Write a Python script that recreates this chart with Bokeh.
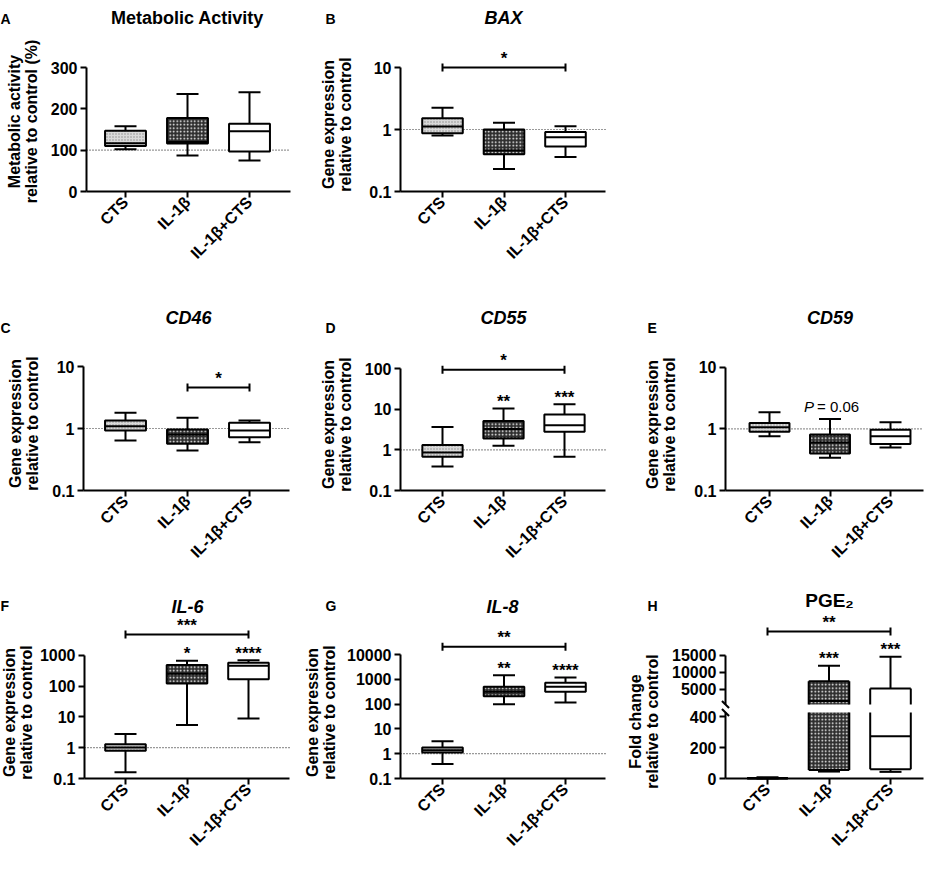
import numpy as np
from math import pi
from bokeh.plotting import figure
from bokeh.layouts import column, row
from bokeh.models import Range1d, FixedTicker, Label, LinearAxis
from bokeh.core.properties import value
from bokeh.embed import file_html
from bokeh.resources import INLINE

FONT = "Liberation Sans"

categories = ["CTS", "IL-1β", "IL-1β+CTS"]

# Box summaries per group (CTS, IL-1β, IL-1β+CTS): whisker min, Q1, median, Q3, whisker max
metab_min = [102, 87, 75]
metab_q1 = [110, 116, 97]
metab_med = [117, 120, 146]
metab_q3 = [147, 178, 164]
metab_max = [158, 236, 240]

bax_min = [0.80, 0.23, 0.36]
bax_q1 = [0.87, 0.40, 0.53]
bax_med = [1.12, 0.46, 0.75]
bax_q3 = [1.52, 1.00, 0.91]
bax_max = [2.24, 1.28, 1.13]

cd46_min = [0.64, 0.44, 0.60]
cd46_q1 = [0.93, 0.57, 0.72]
cd46_med = [1.09, 0.80, 0.93]
cd46_q3 = [1.35, 0.96, 1.24]
cd46_max = [1.79, 1.49, 1.35]

cd55_min = [0.39, 1.27, 0.68]
cd55_q1 = [0.68, 1.92, 2.79]
cd55_med = [0.87, 3.30, 4.07]
cd55_q3 = [1.32, 5.20, 7.45]
cd55_max = [3.70, 10.5, 13.3]

cd59_min = [0.76, 0.34, 0.50]
cd59_q1 = [0.90, 0.40, 0.57]
cd59_med = [1.06, 0.60, 0.76]
cd59_q3 = [1.25, 0.81, 0.97]
cd59_max = [1.86, 1.45, 1.28]

il6_min = [0.16, 5.4, 8.9]
il6_q1 = [0.79, 120, 166]
il6_med = [1.01, 250, 457]
il6_q3 = [1.30, 479, 570]
il6_max = [2.8, 661, 692]

il8_min = [0.38, 99, 116]
il8_q1 = [1.12, 208, 313]
il8_med = [1.38, 313, 500]
il8_q3 = [1.78, 500, 724]
il8_max = [3.19, 1463, 1183]

pge2_min = [0.4, 45, 43]
pge2_q1 = [0.7, 55, 60]
pge2_med = [1.0, 1500, 274]
pge2_q3 = [3.0, 7353, 5206]
pge2_max = [8.0, 11882, 14529]

# axis ticks and tick labels
ticks_pct = [0, 100, 200, 300]
labels_pct = ["0", "100", "200", "300"]
ticks_10 = [0.1, 1, 10]
labels_10 = ["0.1", "1", "10"]
ticks_100 = [0.1, 1, 10, 100]
labels_100 = ["0.1", "1", "10", "100"]
ticks_1000 = [0.1, 1, 10, 100, 1000]
labels_1000 = ["0.1", "1", "10", "100", "1000"]
ticks_10000 = [0.1, 1, 10, 100, 1000, 10000]
labels_10000 = ["0.1", "1", "10", "100", "1000", "10000"]
ticks_pge_hi = [5000, 10000, 15000]
labels_pge_hi = ["5000", "10000", "15000"]
ticks_pge_lo = [0, 200, 400]
labels_pge_lo = ["0", "200", "400"]
PGE_BREAK_LO = 428   # top of the lower axis segment
PGE_BREAK_HI = 500   # bottom of the upper axis segment

# significance annotations: (from group, to group, height, label)
sig_bax = (0, 2, 10, "*")
sig_cd46 = (1, 2, 4.6, "*")
sig_cd55 = (0, 2, 95, "*")
sig_il6 = (0, 2, 4700, "***")
sig_il8 = (0, 2, 20400, "**")
sig_pge2 = (0, 2, 22000, "**")
stars_cd55 = ["", "**", "***"]
stars_il6 = ["", "*", "****"]
stars_il8 = ["", "**", "****"]
stars_pge2 = ["", "***", "***"]

BOX_W = 0.66
CAP = 22
LW = 2
TITLE_SIZE = "18px"
LETTER_SIZE = "14px"
BOX_STYLES = [
    dict(fill_color="#d9d9d9", hatch_pattern="dot", hatch_color="#8c8c8c", hatch_scale=3, hatch_weight=1),
    dict(fill_color="#2e2e2e", hatch_pattern="dot", hatch_color="white", hatch_scale=3.5, hatch_weight=1.5),
    dict(fill_color="white"),
]


def y_range_from(yb_px, yb_val, yt_px, yt_val, frame_h, log):
    f = np.log10 if log else (lambda v: v)
    finv = (lambda u: 10 ** u) if log else (lambda u: u)
    k = (f(yt_val) - f(yb_val)) / (yb_px - yt_px)
    return float(finv(f(yb_val) + (yb_px - frame_h) * k)), float(finv(f(yb_val) + yb_px * k))


def style_axis(ax, size="16px"):
    ax.axis_line_width = 2
    ax.axis_line_color = "black"
    ax.major_tick_line_width = 2
    ax.major_tick_line_color = "black"
    ax.major_tick_out = 6
    ax.major_tick_in = 0
    ax.minor_tick_line_color = None
    ax.major_label_text_font = FONT
    ax.major_label_text_font_style = "bold"
    ax.major_label_text_color = "black"
    ax.major_label_text_font_size = size


def make_panel(W, H, ax_px, end_px, c0_px, c2_px, yb_px, yb_val, yt_px, yt_val, log,
               yticks, ylabels, ytop_bound):
    s = 2.0 / (c2_px - c0_px)

    def xpx(px):
        return (px - c0_px) * s

    yr = y_range_from(yb_px, yb_val, yt_px, yt_val, H, log)
    p = figure(width=W, height=H, x_range=Range1d(xpx(0), xpx(W)), y_range=Range1d(*yr),
               y_axis_type="log" if log else "linear", output_backend="svg",
               toolbar_location=None, min_border_left=0, min_border_right=0,
               min_border_top=0, min_border_bottom=0,
               background_fill_color="white", border_fill_color="white")
    p.outline_line_color = None
    p.grid.visible = False
    for ax in p.axis:
        style_axis(ax)
    p.xaxis.ticker = FixedTicker(ticks=list(range(len(categories))), minor_ticks=[])
    p.xaxis.major_label_overrides = {i: c for i, c in enumerate(categories)}
    p.xaxis.major_label_orientation = pi / 4
    p.xaxis.major_label_standoff = 2
    p.xaxis.fixed_location = yb_val
    p.xaxis.bounds = (xpx(ax_px), xpx(end_px))
    p.yaxis.fixed_location = xpx(ax_px)
    p.yaxis.ticker = FixedTicker(ticks=yticks, minor_ticks=[])
    p.yaxis.major_label_overrides = dict(zip(yticks, ylabels))
    p.yaxis.major_label_standoff = 3
    p.yaxis.bounds = (yb_val, ytop_bound)
    return p, xpx(ax_px), xpx(end_px)


def draw_boxes(p, mn, q1, med, q3, mx, lo=None, hi=None, **rkw):
    xs = np.arange(len(categories), dtype=float)
    mn, q1, med, q3, mx = (np.asarray(a, dtype=float) for a in (mn, q1, med, q3, mx))
    kw = dict(line_color="black", line_width=LW, **rkw)
    half = BOX_W / 2
    if lo is None and hi is None:
        p.segment(x0=xs, y0=mn, x1=xs, y1=q1, **kw)
        p.segment(x0=xs, y0=q3, x1=xs, y1=mx, **kw)
        p.scatter(x=xs, y=mn, marker="dash", size=CAP, **kw)
        p.scatter(x=xs, y=mx, marker="dash", size=CAP, **kw)
        for i, st in enumerate(BOX_STYLES):
            p.vbar(x=[xs[i]], width=BOX_W, bottom=[q1[i]], top=[q3[i]], **kw, **st)
        p.segment(x0=xs - half, y0=med, x1=xs + half, y1=med, **kw)
        return
    lo = -np.inf if lo is None else lo
    hi = np.inf if hi is None else hi

    def c(a):
        return np.clip(a, lo, hi)

    def inside(a):
        return (a >= lo) & (a <= hi)

    p.segment(x0=xs, y0=c(mn), x1=xs, y1=c(q1), **kw)
    p.segment(x0=xs, y0=c(q3), x1=xs, y1=c(mx), **kw)
    for arr in (mn, mx):
        m = inside(arr)
        p.scatter(x=xs[m], y=arr[m], marker="dash", size=CAP, **kw)
    for i, st in enumerate(BOX_STYLES):
        p.vbar(x=[xs[i]], width=BOX_W, bottom=[c(q1)[i]], top=[c(q3)[i]],
               line_color=None, **rkw, **st)
    p.segment(x0=xs - half, y0=c(q1), x1=xs - half, y1=c(q3), **kw)
    p.segment(x0=xs + half, y0=c(q1), x1=xs + half, y1=c(q3), **kw)
    for arr in (q1, q3, med):
        m = inside(arr)
        p.segment(x0=(xs - half)[m], y0=arr[m], x1=(xs + half)[m], y1=arr[m], **kw)


def ref_line(p, x0, x1, loc):
    p.segment(x0=[x0], y0=[loc], x1=[x1], y1=[loc], line_color="#333333",
              line_width=1.2, line_dash="1 2", level="underlay")


def sig_bar(p, sig, **rkw):
    i0, i1, yv, txt = sig
    p.segment(x0=[i0], y0=[yv], x1=[i1], y1=[yv], line_color="black", line_width=LW, **rkw)
    p.scatter(x=[i0, i1], y=[yv, yv], marker="dash", angle=pi / 2, size=8,
              line_color="black", line_width=LW, **rkw)
    p.text(x=[(i0 + i1) / 2], y=[yv], text=[txt], y_offset=-9, text_align="center",
           text_baseline="middle", text_font=value(FONT), text_font_style="bold",
           text_font_size="17px", text_color="black", **rkw)


def group_stars(p, stars, mx, **rkw):
    xs = list(range(len(categories)))
    p.text(x=xs, y=mx, text=stars, y_offset=-7, text_align="center",
           text_baseline="middle", text_font=value(FONT), text_font_style="bold",
           text_font_size="17px", text_color="black", **rkw)


def add_label(p, x_fig, y_top, text, size, style="bold", align="left", **extra):
    # screen units are measured from the frame's bottom-left corner (frame = whole figure)
    p.add_layout(Label(x=x_fig, y=p.height - y_top, x_units="screen", y_units="screen",
                       text=text, text_font=FONT, text_font_size=size,
                       text_font_style=style, text_align=align,
                       text_color="black", **extra))


def y_title(p, x_fig, y_top, text):
    add_label(p, x_fig, y_top, text, "16px", "bold", "center", angle=pi / 2,
              text_baseline="middle", text_line_height=1.0)


GENE = "Gene expression\nrelative to control"
TB = dict(text_baseline="alphabetic")

# ---------------- Row 1 ----------------
pA, xa0, xa1 = make_panel(294, 282, 86, 290, 125, 249, 191, 0, 67, 300, False,
                          ticks_pct, labels_pct, 300)
ref_line(pA, xa0, xa1, 100)
draw_boxes(pA, metab_min, metab_q1, metab_med, metab_q3, metab_max)
add_label(pA, 187, 17, "Metabolic Activity", TITLE_SIZE, "bold", "center", **TB)
add_label(pA, 0, 18, "A", LETTER_SIZE, **TB)
y_title(pA, 22, 121, "Metabolic activity\nrelative to control (%)")

pB, xb0, xb1 = make_panel(316, 282, 106, 311, 148, 271, 191, 0.1, 67, 10, True,
                          ticks_10, labels_10, 10)
ref_line(pB, xb0, xb1, 1)
draw_boxes(pB, bax_min, bax_q1, bax_med, bax_q3, bax_max)
sig_bar(pB, sig_bax)
add_label(pB, 209, 17, "BAX", TITLE_SIZE, "bold italic", "center", **TB)
add_label(pB, 31, 18, "B", LETTER_SIZE, **TB)
y_title(pB, 42, 124, GENE)

# ---------------- Row 2 ----------------
pC, xc0, xc1 = make_panel(294, 292, 83, 289, 125, 249, 208, 0.1, 84, 10, True,
                          ticks_10, labels_10, 10)
ref_line(pC, xc0, xc1, 1)
draw_boxes(pC, cd46_min, cd46_q1, cd46_med, cd46_q3, cd46_max)
sig_bar(pC, sig_cd46)
add_label(pC, 188, 35, "CD46", TITLE_SIZE, "bold italic", "center", **TB)
add_label(pC, 0, 45, "C", LETTER_SIZE, **TB)
y_title(pC, 23, 141, GENE)

pD, xd0, xd1 = make_panel(316, 292, 106, 311, 148, 270, 208, 0.1, 86.3, 100, True,
                          ticks_100, labels_100, 100)
ref_line(pD, xd0, xd1, 1)
draw_boxes(pD, cd55_min, cd55_q1, cd55_med, cd55_q3, cd55_max)
sig_bar(pD, sig_cd55)
group_stars(pD, stars_cd55, cd55_max)
add_label(pD, 209, 35, "CD55", TITLE_SIZE, "bold italic", "center", **TB)
add_label(pD, 31, 45, "D", LETTER_SIZE, **TB)
y_title(pD, 42, 142, GENE)

pE, xe0, xe1 = make_panel(315, 292, 115, 313, 159, 280, 208, 0.1, 84.7, 10, True,
                          ticks_10, labels_10, 10)
ref_line(pE, xe0, xe1, 1)
draw_boxes(pE, cd59_min, cd59_q1, cd59_med, cd59_q3, cd59_max)
pE.text(x=[1], y=[cd59_max[1]], text=["P"], x_offset=-26, y_offset=-12,
        text_align="left", text_baseline="middle", text_font=value(FONT),
        text_font_style="italic", text_font_size="15px", text_color="black")
pE.text(x=[1], y=[cd59_max[1]], text=["= 0.06"], x_offset=-13, y_offset=-12,
        text_align="left", text_baseline="middle", text_font=value(FONT),
        text_font_size="15px", text_color="black")
add_label(pE, 219.5, 35, "CD59", TITLE_SIZE, "bold italic", "center", **TB)
add_label(pE, 37, 45, "E", LETTER_SIZE, **TB)
y_title(pE, 50, 142, GENE)

# ---------------- Row 3 ----------------
pF, xf0, xf1 = make_panel(294, 282, 84, 289, 125, 248, 204, 0.1, 80.7, 1000, True,
                          ticks_1000, labels_1000, 1000)
ref_line(pF, xf0, xf1, 1)
draw_boxes(pF, il6_min, il6_q1, il6_med, il6_q3, il6_max)
sig_bar(pF, sig_il6)
group_stars(pF, stars_il6, il6_max)
add_label(pF, 187, 32, "IL-6", TITLE_SIZE, "bold italic", "center", **TB)
add_label(pF, 0, 31, "F", LETTER_SIZE, **TB)
y_title(pF, 17, 138, GENE)

pG, xg0, xg1 = make_panel(316, 282, 106, 311, 148, 271, 204, 0.1, 80, 10000, True,
                          ticks_10000, labels_10000, 10000)
ref_line(pG, xg0, xg1, 1)
draw_boxes(pG, il8_min, il8_q1, il8_med, il8_q3, il8_max)
sig_bar(pG, sig_il8)
group_stars(pG, stars_il8, il8_max)
add_label(pG, 208, 32, "IL-8", TITLE_SIZE, "bold italic", "center", **TB)
add_label(pG, 31, 31, "G", LETTER_SIZE, **TB)
y_title(pG, 26, 138, GENE)

# PGE2: one frame, two y ranges forming a broken axis
pH, xh0, xh1 = make_panel(315, 282, 115, 313, 157, 280, 204, 0, 142.3, 400, False,
                          ticks_pge_lo, labels_pge_lo, PGE_BREAK_LO)
hi_range = y_range_from(114.7, 5000, 80.7, 15000, 282, False)
pH.extra_y_ranges = {"hi": Range1d(*hi_range)}
ax_hi = LinearAxis(y_range_name="hi", fixed_location=xh0,
                   ticker=FixedTicker(ticks=ticks_pge_hi, minor_ticks=[]),
                   major_label_overrides=dict(zip(ticks_pge_hi, labels_pge_hi)),
                   bounds=(PGE_BREAK_HI, 15000), major_label_standoff=3)
style_axis(ax_hi)
pH.add_layout(ax_hi, "left")
draw_boxes(pH, pge2_min, pge2_q1, pge2_med, pge2_q3, pge2_max, lo=0, hi=PGE_BREAK_LO)
draw_boxes(pH, pge2_min, pge2_q1, pge2_med, pge2_q3, pge2_max, lo=PGE_BREAK_HI,
           y_range_name="hi")
pH.scatter(x=[xh0], y=[PGE_BREAK_LO], marker="dash", angle=-pi / 4, size=10,
           line_color="black", line_width=LW)
pH.scatter(x=[xh0], y=[PGE_BREAK_HI], marker="dash", angle=-pi / 4, size=10,
           line_color="black", line_width=LW, y_range_name="hi")
sig_bar(pH, sig_pge2, y_range_name="hi")
group_stars(pH, stars_pge2, pge2_max, y_range_name="hi")
add_label(pH, 219, 26, "PGE₂", "19px", "bold", "center", **TB)
add_label(pH, 37, 31, "H", LETTER_SIZE, **TB)
y_title(pH, 33, 147, "Fold change\nrelative to control")

layout = column(
    row(pA, pB),
    row(pC, pD, pE),
    row(pF, pG, pH),
)

open("out.html", "w").write(file_html(layout, INLINE))
